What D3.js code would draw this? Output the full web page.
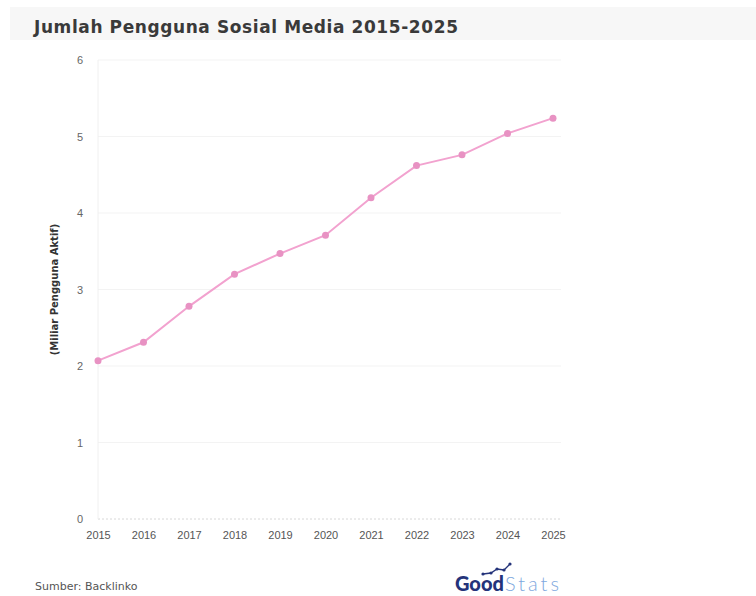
<!DOCTYPE html>
<html>
<head>
<meta charset="utf-8">
<script src="https://cdn.jsdelivr.net/npm/d3@7"></script>
<style>
  body { margin: 0; background: #fff; }
  svg { display: block; font-family: "DejaVu Sans", "Open Sans", sans-serif; }
</style>
</head>
<body>
<svg id="chart" width="756" height="596"></svg>
<script>
const years = ["2015", "2016", "2017", "2018", "2019", "2020", "2021", "2022", "2023", "2024", "2025"];
const users = [2.07, 2.31, 2.78, 3.20, 3.47, 3.71, 4.20, 4.62, 4.76, 5.04, 5.24];
const yTicks = [0, 1, 2, 3, 4, 5, 6];

const svg = d3.select("#chart");
const margin = { top: 60, left: 98, right: 203, bottom: 77 };
const width = 756 - margin.left - margin.right;
const height = 596 - margin.top - margin.bottom;

// header band
svg.append("rect")
    .attr("x", 10).attr("y", 7)
    .attr("width", 746).attr("height", 33)
    .attr("fill", "#f7f7f7");

svg.append("text")
    .attr("x", 34).attr("y", 33)
    .attr("font-size", 17).attr("font-weight", 700)
    .attr("fill", "#3a3a3a")
    .attr("textLength", 424)
    .text("Jumlah Pengguna Sosial Media 2015-2025");

const g = svg.append("g").attr("transform", `translate(${margin.left},${margin.top})`);

const x = d3.scalePoint().domain(years).range([0, width]);
const y = d3.scaleLinear().domain([0, 6]).range([height, 0]);

// grid
g.selectAll(".grid").data(yTicks.filter(d => d > 0)).enter()
    .append("line")
    .attr("x1", 0).attr("x2", width + 8)
    .attr("y1", d => y(d)).attr("y2", d => y(d))
    .attr("stroke", "#f3f3f3").attr("stroke-width", 1);

g.append("line")
    .attr("x1", 0).attr("x2", width + 8)
    .attr("y1", y(0)).attr("y2", y(0))
    .attr("stroke", "#d8d8d8").attr("stroke-dasharray", "2,2");

g.append("line")
    .attr("x1", 0).attr("x2", 0)
    .attr("y1", 0).attr("y2", height)
    .attr("stroke", "#f0f0f0");

// axes
const yAxis = g.append("g")
    .call(d3.axisLeft(y).tickValues(yTicks).tickFormat(d3.format("d")).tickSize(0).tickPadding(15));
yAxis.select(".domain").remove();
yAxis.selectAll("text").attr("font-size", 11).attr("fill", "#666");

const xAxis = g.append("g")
    .attr("transform", `translate(0,${height})`)
    .call(d3.axisBottom(x).tickSize(0).tickPadding(12));
xAxis.select(".domain").remove();
xAxis.selectAll("text").attr("font-size", 11).attr("fill", "#555");

svg.append("text")
    .attr("transform", `translate(58,${margin.top + y(3)}) rotate(-90)`)
    .attr("text-anchor", "middle")
    .attr("font-size", 10).attr("font-weight", 700)
    .attr("fill", "#333")
    .text("(Miliar Pengguna Aktif)");

// line
const line = d3.line()
    .x((d, i) => x(years[i]))
    .y(d => y(d));

g.append("path")
    .datum(users)
    .attr("fill", "none")
    .attr("stroke", "#f2a2cf")
    .attr("stroke-width", 2)
    .attr("d", line);

g.selectAll(".dot").data(users).enter()
    .append("circle")
    .attr("cx", (d, i) => x(years[i]))
    .attr("cy", d => y(d))
    .attr("r", 3.5)
    .attr("fill", "#e892c3");

// footer
svg.append("text")
    .attr("x", 35).attr("y", 590)
    .attr("font-size", 11).attr("fill", "#555")
    .text("Sumber: Backlinko");

const logo = svg.append("g").attr("transform", "translate(455,591)");
const lt = logo.append("text").attr("font-size", 20).attr("font-family", "Lato, sans-serif");
lt.append("tspan").attr("font-weight", 900).attr("fill", "#24337a").text("Good");
lt.append("tspan").attr("font-weight", 300).attr("fill", "#7ea8de")
    .attr("dx", 1).attr("letter-spacing", 3).text("Stats");
logo.append("path")
    .attr("d", "M28,-17 L36,-18 L42,-22 L49,-21 L55,-27")
    .attr("fill", "none").attr("stroke", "#24337a").attr("stroke-width", 1.3);
logo.selectAll(".ld").data([[28, -17], [36, -18], [42, -22], [49, -21], [55, -27]]).enter()
    .append("circle")
    .attr("cx", d => d[0]).attr("cy", d => d[1]).attr("r", 1.6)
    .attr("fill", "#24337a");
</script>
</body>
</html>
